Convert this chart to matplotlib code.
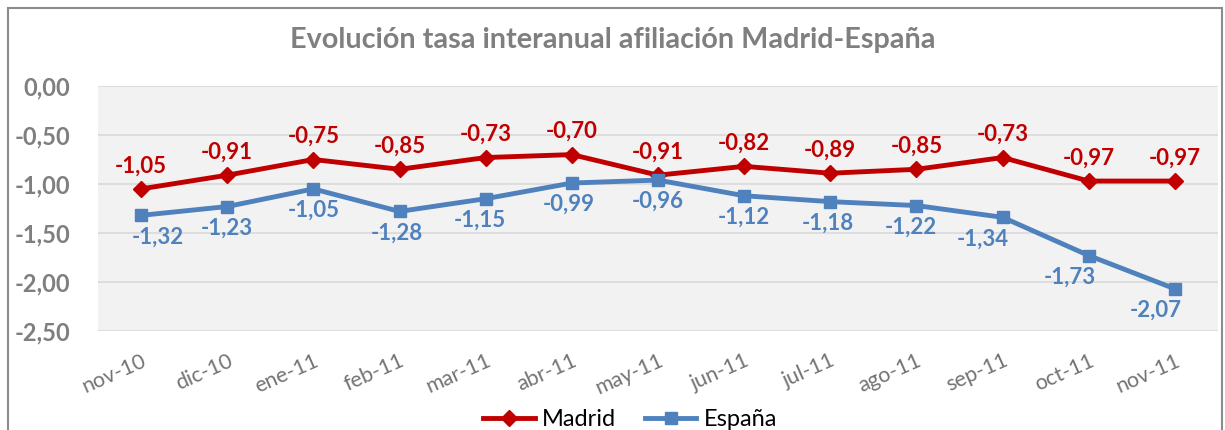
import matplotlib
matplotlib.use("Agg")
import matplotlib.pyplot as plt
from matplotlib.patches import Rectangle

months = ["nov-10", "dic-10", "ene-11", "feb-11", "mar-11", "abr-11", "may-11",
          "jun-11", "jul-11", "ago-11", "sep-11", "oct-11", "nov-11"]
madrid = [-1.05, -0.91, -0.75, -0.85, -0.73, -0.70, -0.91, -0.82, -0.89, -0.85, -0.73, -0.97, -0.97]
espana = [-1.32, -1.23, -1.05, -1.28, -1.15, -0.99, -0.96, -1.12, -1.18, -1.22, -1.34, -1.73, -2.07]
yticks = [0.0, -0.5, -1.0, -1.5, -2.0, -2.5]

# label x-offsets (points) for the España labels, as placed in the original
esp_dx = [12, 0, 0, -2, -4, -2, 0, 0, -2, -4, -14, -14, -14]

plt.rcParams['font.family'] = ['Lato', 'DejaVu Sans']

RED = "#C00000"
BLUE = "#4F81BD"
GRAY = "#7F7F7F"

fig = plt.figure(figsize=(12.25, 4.3), dpi=100)
ax = fig.add_axes([98/1225, 1-331/430, (1218-98)/1225, (331-86)/430])
ax.set_facecolor("#F2F2F2")

x = list(range(len(months)))
ax.plot(x, madrid, color=RED, lw=3.5, marker="D", ms=8.5, label="Madrid", zorder=3)
ax.plot(x, espana, color=BLUE, lw=3.5, marker="s", ms=8.5, label="España", zorder=3)

def fmt(v):
    return f"{v:.2f}".replace(".", ",")

for i, v in enumerate(madrid):
    ax.annotate(fmt(v), (i, v), xytext=(0, 9), textcoords="offset points",
                ha="center", va="bottom", color=RED, fontsize=16, fontweight="bold")
for i, v in enumerate(espana):
    ax.annotate(fmt(v), (i, v), xytext=(esp_dx[i], -8), textcoords="offset points",
                ha="center", va="top", color=BLUE, fontsize=16, fontweight="bold")

ax.set_xlim(-0.5, len(months) - 0.5)
ax.set_ylim(-2.5, 0.0)
ax.set_yticks(yticks)
ax.set_yticklabels([fmt(v) for v in yticks], color=GRAY, fontsize=17, fontweight="bold")
ax.set_xticks(x)
ax.set_xticklabels(months, rotation=24, ha="right", rotation_mode="anchor",
                   color="#737373", fontsize=15.5)
ax.tick_params(axis="y", length=0, pad=20)
ax.tick_params(axis="x", length=0, pad=14)
ax.grid(axis="y", color="#D9D9D9", lw=1.2)
ax.set_axisbelow(True)
for s in ax.spines.values():
    s.set_visible(False)

fig.text(0.5, 1-40/430, "Evolución tasa interanual afiliación Madrid-España",
         ha="center", va="center", color=GRAY, fontsize=20.7, fontweight="bold")

leg = fig.legend(loc="center", bbox_to_anchor=(630/1225, 1-420/430), ncol=2,
                 frameon=False, fontsize=17, handlelength=2.2, columnspacing=1.2,
                 handletextpad=0.3)

fig.patches.append(Rectangle((8/1225, -0.05), (1222-8)/1225, 1-8/430+0.05,
                             transform=fig.transFigure, fill=False,
                             edgecolor="#8C8C8C", lw=1.5))

fig.savefig("out.png", dpi=100)
